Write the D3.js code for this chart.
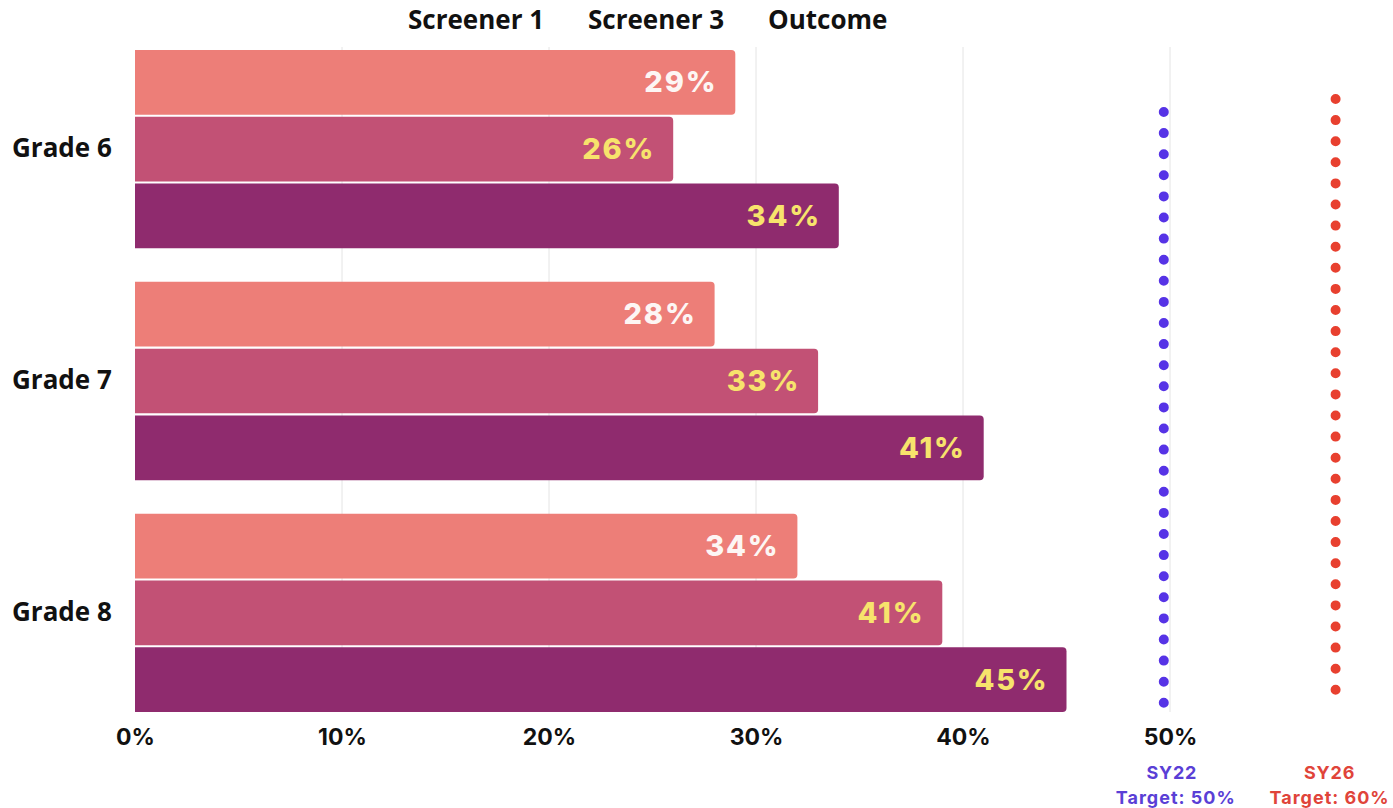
<!DOCTYPE html>
<html>
<head>
<meta charset="utf-8">
<script src="https://cdn.jsdelivr.net/npm/d3@7"></script>
<style>
  html, body { margin: 0; padding: 0; background: #ffffff; }
  svg { display: block; }
</style>
</head>
<body>
<svg id="chart" width="1393" height="808"></svg>
<script>
// ---- data ----
const grades = ["Grade 6", "Grade 7", "Grade 8"];
const series = ["Screener 1", "Screener 3", "Outcome"];
// bar lengths as drawn in the picture (percent)
const screener1 = [29, 28, 32];
const screener3 = [26, 33, 39];
const outcome   = [34, 41, 45];
// printed value labels
const screener1Labels = ["29%", "28%", "34%"];
const screener3Labels = ["26%", "33%", "41%"];
const outcomeLabels   = ["34%", "41%", "45%"];
const xTicks = [0, 10, 20, 30, 40, 50];
const targetNames = ["SY22", "SY26"];
const targetTexts = ["Target: 50%", "Target: 60%"];
const targetPos = [49.7, 58.0]; // where the dotted target lines sit on the x scale

// ---- styling ----
const seriesColors = ["#ed7e78", "#c25175", "#8f2b6e"];
const labelColors  = ["#fdf6f4", "#f7e36c", "#f7e36c"];
const targetColors = ["#5633e6", "#e8402f"];
const targetTextColors = ["#5a3fd6", "#e0443a"];

const svg = d3.select("#chart");
const x = d3.scaleLinear().domain([0, 50]).range([135, 1170]);
const y = d3.scaleBand().domain(grades).range([50, 712]).paddingInner(0.145).paddingOuter(0);
const ySub = d3.scaleBand().domain(series).range([0, y.bandwidth()]).paddingInner(0.03).paddingOuter(0);

const values = [screener1, screener3, outcome];
const labels = [screener1Labels, screener3Labels, outcomeLabels];

// gridlines
svg.append("g").selectAll("line")
  .data(xTicks.filter(d => d > 0))
  .join("line")
  .attr("x1", d => x(d)).attr("x2", d => x(d))
  .attr("y1", 47).attr("y2", 712)
  .attr("stroke", "#e4e4e4").attr("stroke-width", 1);

// bars
function barPath(x0, x1, y0, h, r) {
  return `M${x0},${y0}H${x1 - r}Q${x1},${y0} ${x1},${y0 + r}V${y0 + h - r}Q${x1},${y0 + h} ${x1 - r},${y0 + h}H${x0}Z`;
}
const rows = [];
grades.forEach((g, gi) => {
  series.forEach((s, si) => {
    rows.push({ g, s, si, v: values[si][gi], label: labels[si][gi] });
  });
});

const bars = svg.append("g");
bars.selectAll("path")
  .data(rows)
  .join("path")
  .attr("d", d => barPath(x(0), x(d.v), y(d.g) + ySub(d.s), ySub.bandwidth(), 4))
  .attr("fill", d => seriesColors[d.si]);

bars.selectAll("text")
  .data(rows)
  .join("text")
  .attr("x", d => x(d.v) - 18)
  .attr("y", d => y(d.g) + ySub(d.s) + ySub.bandwidth() / 2 + 2)
  .attr("text-anchor", "end")
  .attr("dominant-baseline", "middle")
  .attr("font-family", "Inter, 'Open Sans', sans-serif")
  .attr("font-weight", 800)
  .attr("font-size", 29)
  .attr("letter-spacing", 1.8)
  .attr("fill", d => labelColors[d.si])
  .text(d => d.label);

// grade labels
svg.append("g").selectAll("text")
  .data(grades)
  .join("text")
  .attr("x", 12)
  .attr("y", d => y(d) + y.bandwidth() / 2 + 1)
  .attr("dominant-baseline", "middle")
  .attr("font-family", "'Open Sans', sans-serif")
  .attr("font-weight", 700)
  .attr("font-size", 26)
  .attr("fill", "#111")
  .text(d => d);

// x axis tick labels
const xAxis = d3.axisBottom(x).tickValues(xTicks).tickFormat(d => d + "%").tickSize(0).tickPadding(0);
const gx = svg.append("g").attr("transform", "translate(0,729)").call(xAxis);
gx.select(".domain").remove();
gx.selectAll("text")
  .attr("font-family", "Inter, sans-serif")
  .attr("font-weight", 700)
  .attr("font-size", 23)
  .attr("fill", "#111");

// legend
const legendX = [408, 588, 768];
svg.append("g").selectAll("text")
  .data(series)
  .join("text")
  .attr("x", (d, i) => legendX[i])
  .attr("y", 29)
  .attr("font-family", "'Open Sans', sans-serif")
  .attr("font-weight", 700)
  .attr("font-size", 26)
  .attr("fill", "#111")
  .text(d => d);

// target dotted lines
const tg = svg.append("g");
tg.selectAll("line")
  .data(targetPos)
  .join("line")
  .attr("x1", d => x(d)).attr("x2", d => x(d))
  .attr("y1", (d, i) => i === 0 ? 112 : 99)
  .attr("y2", (d, i) => i === 0 ? 705 : 690)
  .attr("stroke", (d, i) => targetColors[i])
  .attr("stroke-width", 10)
  .attr("stroke-linecap", "round")
  .attr("stroke-dasharray", "0 21.1");

// target labels
const tl = svg.append("g");
tl.selectAll("text.name")
  .data(targetNames)
  .join("text")
  .attr("class", "name")
  .attr("x", (d, i) => x(targetPos[i]) + (i === 0 ? 8 : -6))
  .attr("y", 779)
  .attr("text-anchor", "middle")
  .attr("font-family", "Inter, sans-serif")
  .attr("font-weight", 700)
  .attr("font-size", 18)
  .attr("letter-spacing", 0.8)
  .attr("fill", (d, i) => targetTextColors[i])
  .text(d => d);
tl.selectAll("text.tt")
  .data(targetTexts)
  .join("text")
  .attr("class", "tt")
  .attr("x", (d, i) => x(targetPos[i]) + (i === 0 ? 12 : -6))
  .attr("y", 804)
  .attr("text-anchor", "middle")
  .attr("font-family", "Inter, sans-serif")
  .attr("font-weight", 700)
  .attr("font-size", 18)
  .attr("letter-spacing", 1)
  .attr("fill", (d, i) => targetTextColors[i])
  .text(d => d);
</script>
</body>
</html>
